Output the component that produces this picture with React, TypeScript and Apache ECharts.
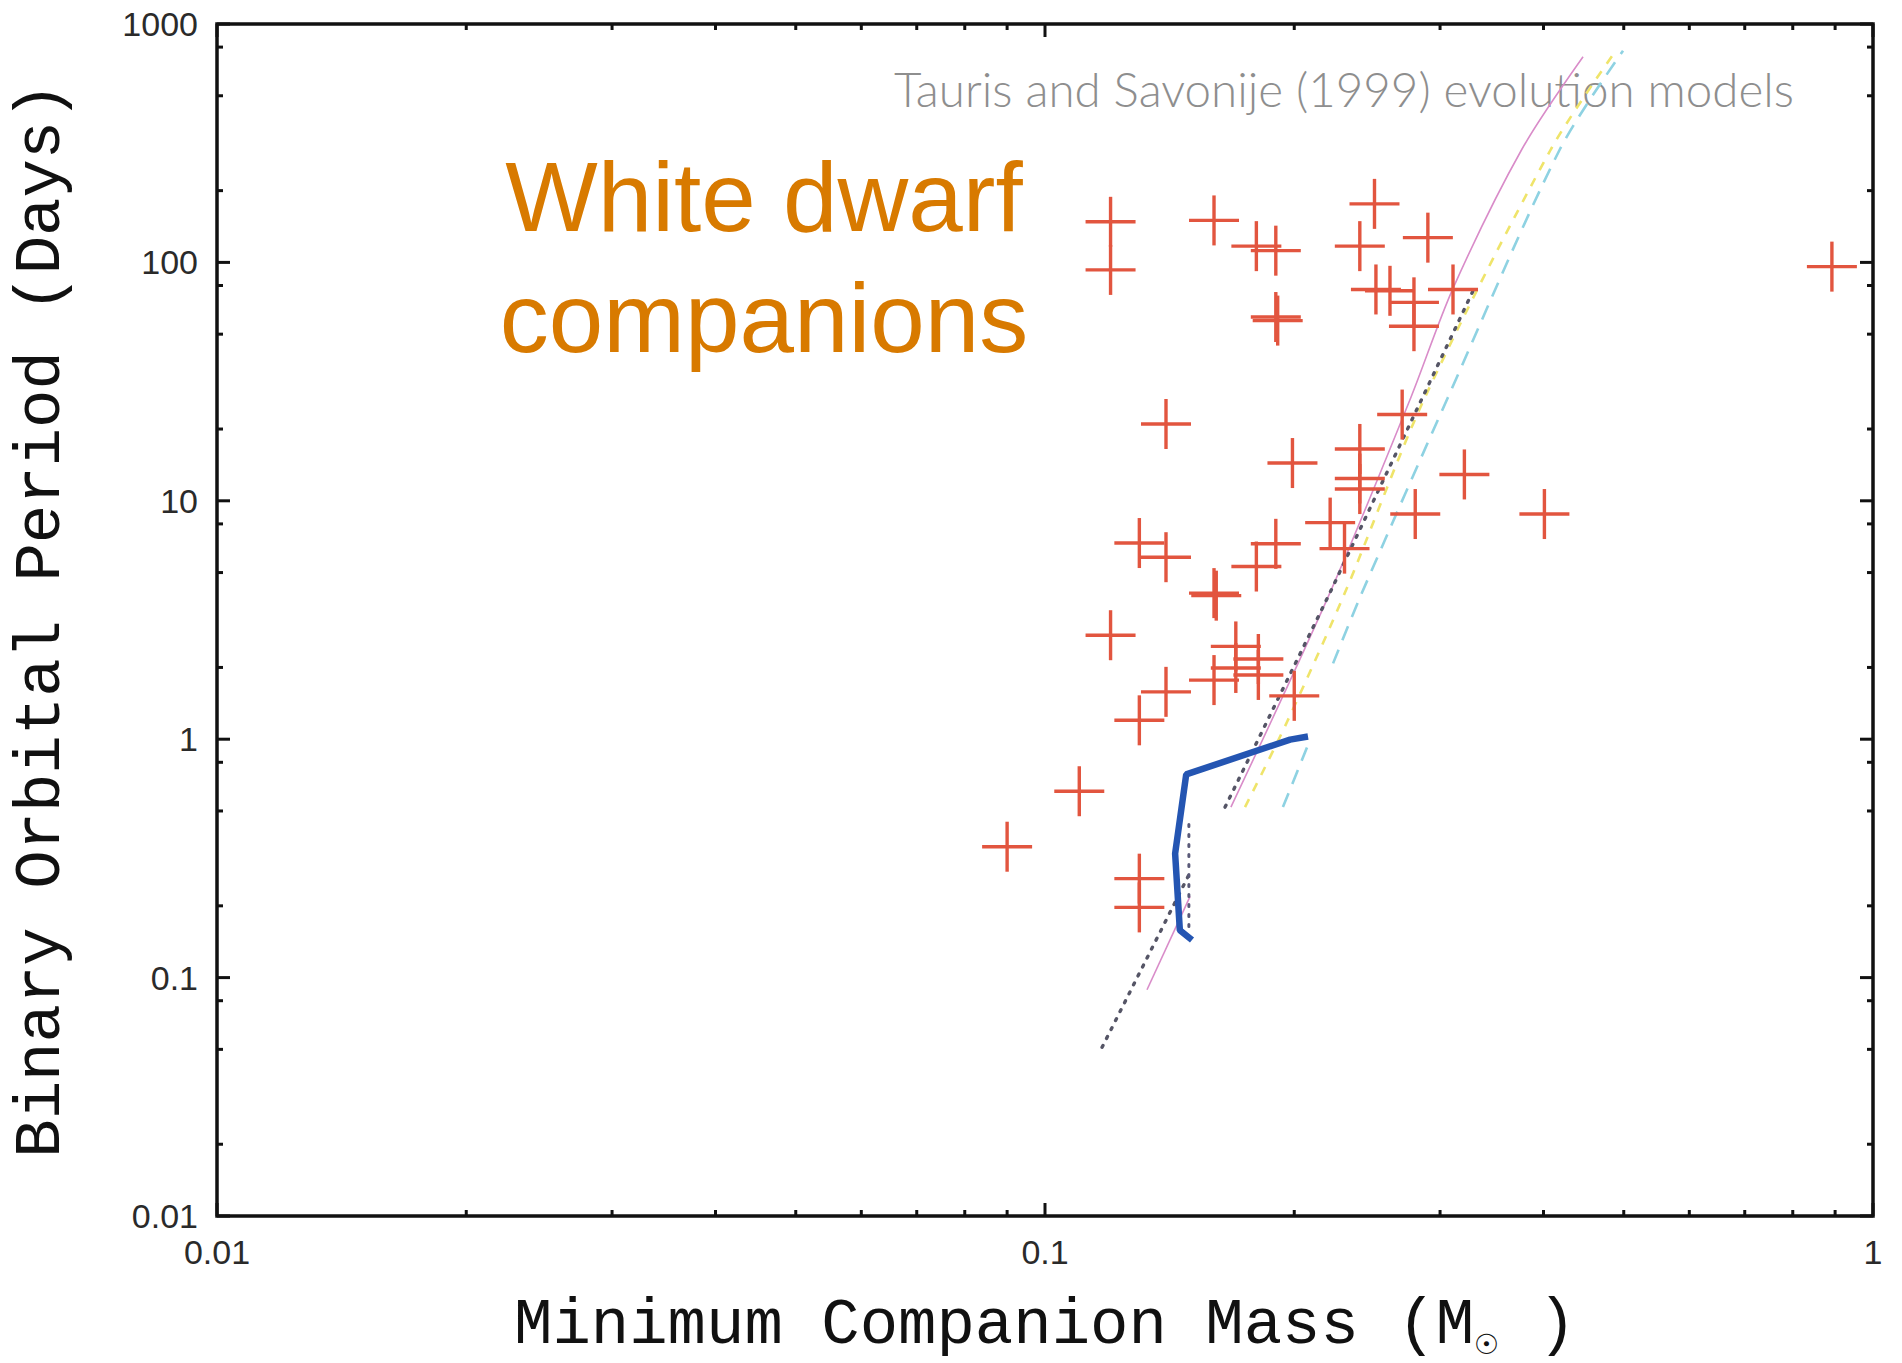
import React, { useEffect, useRef } from "react";
import * as echarts from "echarts";

// Axis ticks and their labels (log scales)
const massTicks = [0.01, 0.1, 1];
const massTickLabels = ["0.01", "0.1", "1"];
const periodTicks = [0.01, 0.1, 1, 10, 100, 1000];
const periodTickLabels = ["0.01", "0.1", "1", "10", "100", "1000"];
const massMinorTicks = [
  0.02, 0.03, 0.04, 0.05, 0.06, 0.07, 0.08, 0.09,
  0.2, 0.3, 0.4, 0.5, 0.6, 0.7, 0.8, 0.9,
];
const periodMinorTicks = [
  0.02, 0.05, 0.08, 0.2, 0.5, 0.8, 2, 5, 8, 20, 50, 80, 200, 500, 800,
];

// Binary pulsars: minimum companion mass (solar masses) and orbital period (days)
const pulsarMass = [
  0.12, 0.12, 0.16, 0.18, 0.19, 0.25, 0.24, 0.29, 0.19, 0.191, 0.251, 0.261,
  0.279, 0.279, 0.311, 0.892, 0.14, 0.27, 0.199, 0.24, 0.24, 0.24, 0.321,
  0.28, 0.401, 0.221, 0.23, 0.13, 0.14, 0.19, 0.18, 0.16, 0.161, 0.12, 0.17,
  0.181, 0.17, 0.181, 0.16, 0.14, 0.2, 0.13, 0.11, 0.09, 0.13, 0.13,
];
const pulsarPeriod = [
  148, 93, 150, 117, 112, 176, 117, 127, 59, 57, 77, 76,
  68, 54, 77, 96, 21, 23, 14.4, 16.5, 12.4, 11.2, 12.9,
  8.8, 8.8, 8.1, 6.3, 6.65, 5.8, 6.6, 5.3, 4.1, 4.0, 2.73, 2.45,
  2.17, 1.99, 1.86, 1.77, 1.58, 1.52, 1.2, 0.605, 0.354, 0.26, 0.197,
];

// Tauris & Savonije (1999) period–mass tracks (visible parts)
const pinkLowerMass = [0.1328, 0.1497];
const pinkLowerPeriod = [0.0889, 0.219];
const pinkUpperMass = [0.1677, 0.2209, 0.2767, 0.3111, 0.3768, 0.4465];
const pinkUpperPeriod = [0.519, 4.12, 27.2, 78, 299, 729];

const dottedLowerMass = [0.1172, 0.1497];
const dottedLowerPeriod = [0.051, 0.276];
const dottedUpperMass = [0.165, 0.2209, 0.33];
const dottedUpperPeriod = [0.519, 4.12, 78];
const dottedSliverMass = [0.1492, 0.1492];
const dottedSliverPeriod = [0.164, 0.454];

const yellowMass = [0.1744, 0.196, 0.2303, 0.2877, 0.4085, 0.4853];
const yellowPeriod = [0.519, 1.18, 4.12, 27.2, 299, 743];

const cyanLowerMass = [0.1938, 0.2072];
const cyanLowerPeriod = [0.519, 0.923];
const cyanUpperMass = [0.2228, 0.2415, 0.3067, 0.4188, 0.499];
const cyanUpperPeriod = [2.08, 4.12, 27.2, 299, 772];

// Thick blue boundary
const blueMass = [0.1505, 0.1455, 0.1436, 0.1481, 0.1977, 0.2078];
const bluePeriod = [0.1437, 0.158, 0.331, 0.712, 0.996, 1.026];

const CROSS_RED = "#E2553F";
const AXIS_BLACK = "#111111";
const LABEL_FONT = "'Liberation Sans', Arial, Helvetica, sans-serif";
const MONO_FONT = "'Courier New', 'Liberation Mono', monospace";

const zip = (xs: number[], ys: number[]) => xs.map((x, i) => [x, ys[i]]);

function labelFor(ticks: number[], labels: string[]) {
  return (v: number) => {
    const i = ticks.findIndex((t) => Math.abs(Math.log10(t) - Math.log10(v)) < 1e-6);
    return i >= 0 ? labels[i] : "";
  };
}

function trackSeries(
  data: number[][],
  color: string,
  width: number,
  type: any,
  z = 2,
  cap: any = "butt",
  smooth: any = false
) {
  return {
    type: "line",
    data,
    showSymbol: false,
    symbol: "none",
    silent: true,
    smooth,
    z,
    lineStyle: { color, width, type, cap },
  };
}

export default function App() {
  const ref = useRef<HTMLDivElement>(null);

  useEffect(() => {
    if (!ref.current) return;
    const chart = echarts.init(ref.current, undefined, { renderer: "svg" });

    const MAJOR = 13;
    const MINOR = 6;

    const xTickSeries = (values: number[], len: number) => ({
      type: "custom",
      data: values.map((v) => [v, 1]),
      encode: { x: 0, y: 1 },
      clip: false,
      silent: true,
      z: 6,
      renderItem: (params: any, api: any) => {
        const cs = params.coordSys;
        const x = api.coord([api.value(0), 1])[0];
        const top = cs.y;
        const bottom = cs.y + cs.height;
        const style = { stroke: AXIS_BLACK, lineWidth: 3 };
        return {
          type: "group",
          children: [
            { type: "line", shape: { x1: x, y1: bottom, x2: x, y2: bottom - len }, style },
            { type: "line", shape: { x1: x, y1: top, x2: x, y2: top + len }, style },
          ],
        };
      },
    });

    const yTickSeries = (values: number[], len: number) => ({
      type: "custom",
      data: values.map((v) => [0.1, v]),
      encode: { x: 0, y: 1 },
      clip: false,
      silent: true,
      z: 6,
      renderItem: (params: any, api: any) => {
        const cs = params.coordSys;
        const y = api.coord([0.1, api.value(1)])[1];
        const left = cs.x;
        const right = cs.x + cs.width;
        const style = { stroke: AXIS_BLACK, lineWidth: 3 };
        return {
          type: "group",
          children: [
            { type: "line", shape: { x1: left, y1: y, x2: left + len, y2: y }, style },
            { type: "line", shape: { x1: right, y1: y, x2: right - len, y2: y }, style },
          ],
        };
      },
    });

    chart.setOption({
      animation: false,
      backgroundColor: "#ffffff",
      grid: {
        left: 217,
        top: 24,
        width: 1656,
        height: 1201,
        show: true,
        borderColor: AXIS_BLACK,
        borderWidth: 3.5,
        backgroundColor: "#ffffff",
        containLabel: false,
      },
      xAxis: {
        type: "log",
        logBase: 10,
        min: 0.01,
        max: 1,
        axisLine: { show: false },
        axisTick: { show: false },
        splitLine: { show: false },
        axisLabel: {
          margin: 19,
          fontSize: 34,
          color: "#2a2a2a",
          fontFamily: LABEL_FONT,
          showMinLabel: true,
          showMaxLabel: true,
          formatter: labelFor(massTicks, massTickLabels),
        },
        name: "Minimum Companion Mass (M{s|☉} )",
        nameLocation: "middle",
        nameGap: 78,
        nameTextStyle: {
          fontFamily: MONO_FONT,
          fontSize: 64,
          lineHeight: 64,
          color: AXIS_BLACK,
          rich: {
            s: {
              fontFamily: "'DejaVu Sans', sans-serif",
              fontSize: 28,
              lineHeight: 28,
              verticalAlign: "bottom",
              color: AXIS_BLACK,
            },
          },
        },
      },
      yAxis: {
        type: "log",
        logBase: 10,
        min: 0.01,
        max: 1000,
        axisLine: { show: false },
        axisTick: { show: false },
        splitLine: { show: false },
        axisLabel: {
          margin: 19,
          fontSize: 34,
          color: "#2a2a2a",
          fontFamily: LABEL_FONT,
          showMinLabel: true,
          showMaxLabel: true,
          formatter: labelFor(periodTicks, periodTickLabels),
        },
        name: "Binary Orbital Period (Days)",
        nameLocation: "middle",
        nameGap: 143,
        nameTextStyle: {
          fontFamily: MONO_FONT,
          fontSize: 64,
          lineHeight: 64,
          color: AXIS_BLACK,
        },
      },
      graphic: [
        {
          type: "text",
          x: 764,
          y: 197,
          style: {
            text: "White dwarf",
            fontFamily: LABEL_FONT,
            fontSize: 98,
            fill: "#D87A00",
            align: "center",
            verticalAlign: "middle",
          },
          z: 10,
        },
        {
          type: "text",
          x: 764,
          y: 318,
          style: {
            text: "companions",
            fontFamily: LABEL_FONT,
            fontSize: 98,
            fill: "#D87A00",
            align: "center",
            verticalAlign: "middle",
          },
          z: 10,
        },
        {
          type: "text",
          x: 894,
          y: 88,
          style: {
            text: "Tauris and Savonije (1999) evolution models",
            fontFamily: "Lato, 'Open Sans', sans-serif",
            fontWeight: 300,
            fontSize: 47.5,
            fill: "#8e8e8e",
            align: "left",
            verticalAlign: "middle",
          },
          z: 1,
        },
      ],
      series: [
        trackSeries(zip(pinkLowerMass, pinkLowerPeriod), "#D98CC9", 1.6, "solid"),
        trackSeries(zip(pinkUpperMass, pinkUpperPeriod), "#D98CC9", 1.6, "solid", 2, "butt", 0.3),
        trackSeries(zip(yellowMass, yellowPeriod), "#EFE46A", 2.6, [9, 9], 2, "butt", 0.3),
        trackSeries(zip(cyanLowerMass, cyanLowerPeriod), "#8ED2E2", 2.6, [15, 10]),
        trackSeries(zip(cyanUpperMass, cyanUpperPeriod), "#8ED2E2", 2.6, [15, 10], 2, "butt", 0.3),
        trackSeries(zip(dottedLowerMass, dottedLowerPeriod), "#555566", 3.4, [2, 8], 2, "round"),
        trackSeries(zip(dottedUpperMass, dottedUpperPeriod), "#555566", 3.4, [2, 8], 2, "round"),
        trackSeries(zip(dottedSliverMass, dottedSliverPeriod), "#5a5a78", 3, [2, 8], 2, "round"),
        {
          type: "custom",
          data: zip(pulsarMass, pulsarPeriod),
          encode: { x: 0, y: 1 },
          silent: true,
          z: 3,
          renderItem: (_params: any, api: any) => {
            const p = api.coord([api.value(0), api.value(1)]);
            const h = 25;
            const style = { stroke: CROSS_RED, lineWidth: 3.4 };
            return {
              type: "group",
              children: [
                { type: "line", shape: { x1: p[0] - h, y1: p[1], x2: p[0] + h, y2: p[1] }, style },
                { type: "line", shape: { x1: p[0], y1: p[1] - h, x2: p[0], y2: p[1] + h }, style },
              ],
            };
          },
        },
        trackSeries(zip(blueMass, bluePeriod), "#2455B2", 6.5, "solid", 4, "butt"),
        xTickSeries(massTicks, MAJOR),
        xTickSeries(massMinorTicks, MINOR),
        yTickSeries(periodTicks, MAJOR),
        yTickSeries(periodMinorTicks, MINOR),
      ],
    });

    return () => chart.dispose();
  }, []);

  return (
    <div
      ref={ref}
      style={{ position: "fixed", left: 0, top: 0, width: 1902, height: 1363 }}
    />
  );
}
